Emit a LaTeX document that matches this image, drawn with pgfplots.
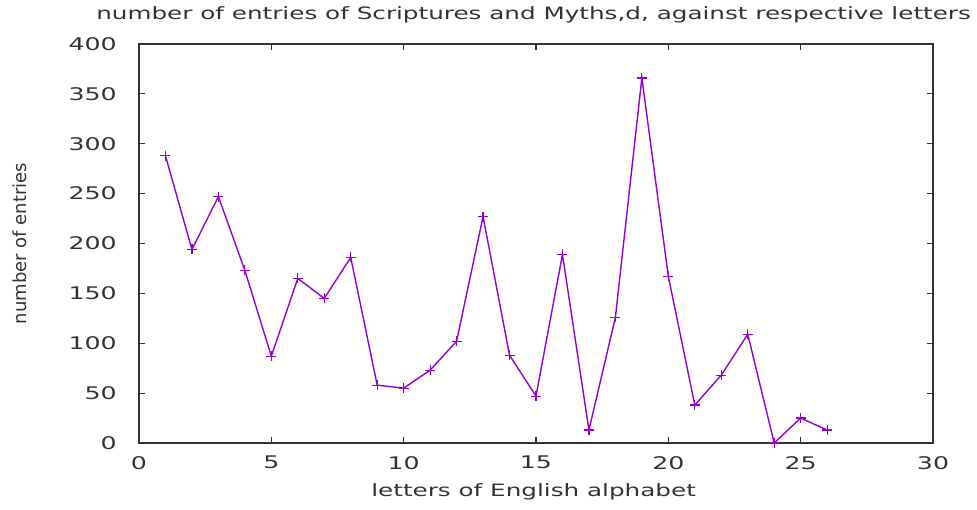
\documentclass[border=0pt]{standalone}
\usepackage{fontspec}
\setmainfont[FakeStretch=1.45]{DejaVu Sans}
\newfontfamily\ylabfont{DejaVu Sans}
\usepackage{pgfplots}
\pgfplotsset{compat=1.18}
\definecolor{gpviolet}{HTML}{9400D3}
\definecolor{axgray}{HTML}{333333}
\pgfplotstableread{
x y
1 288
2 194
3 247
4 173
5 87
6 165
7 145
8 186
9 58
10 55
11 73
12 102
13 227
14 88
15 47
16 189
17 13
18 126
19 366
20 167
21 38
22 68
23 109
24 0
25 25
26 13
}\datatable
\begin{document}
\begin{tikzpicture}
\useasboundingbox (-139bp,-67bp) rectangle (838bp,443bp);
\begin{axis}[
  at={(0bp,0bp)}, anchor=south west,
  scale only axis, width=794bp, height=399bp,
  xmin=0, xmax=30, ymin=0, ymax=400,
  xtick={0,5,...,30}, ytick={0,50,...,400},
  tick align=inside, major tick length=6bp,
  minor tick num=0,
  axis line style={axgray, line width=1.3bp},
  every tick/.style={axgray, line width=1.1bp},
  /pgf/number format/assume math mode=true,
  ticklabel style={font=\fontsize{17.4bp}{20bp}\selectfont, text=axgray},
  yticklabel style={anchor=east, inner sep=0pt, xshift=-22bp},
  xticklabel style={anchor=north, inner sep=0pt, yshift=-13bp},
  title={number of entries of Scriptures and Myths,d, against respective letters},
  title style={font=\fontsize{17bp}{20bp}\selectfont, text=axgray, anchor=center, at={(0.497,1)}, yshift=23bp},
  xlabel={letters of English alphabet},
  xlabel style={font=\fontsize{17bp}{20bp}\selectfont, text=axgray, anchor=center, at={(0.497,0)}, yshift=-49bp},
  ylabel={number of entries},
  ylabel style={font=\ylabfont\fontsize{18bp}{20bp}\selectfont, text=axgray, anchor=center, at={(0,0.5)}, yshift=119bp},
]
\addplot[color=gpviolet, line width=1.4bp, mark=+, mark size=5bp, mark options={draw=gpviolet, color=gpviolet, line width=1.2bp}] table[x=x,y=y] {\datatable};
\end{axis}
\end{tikzpicture}
\end{document}
